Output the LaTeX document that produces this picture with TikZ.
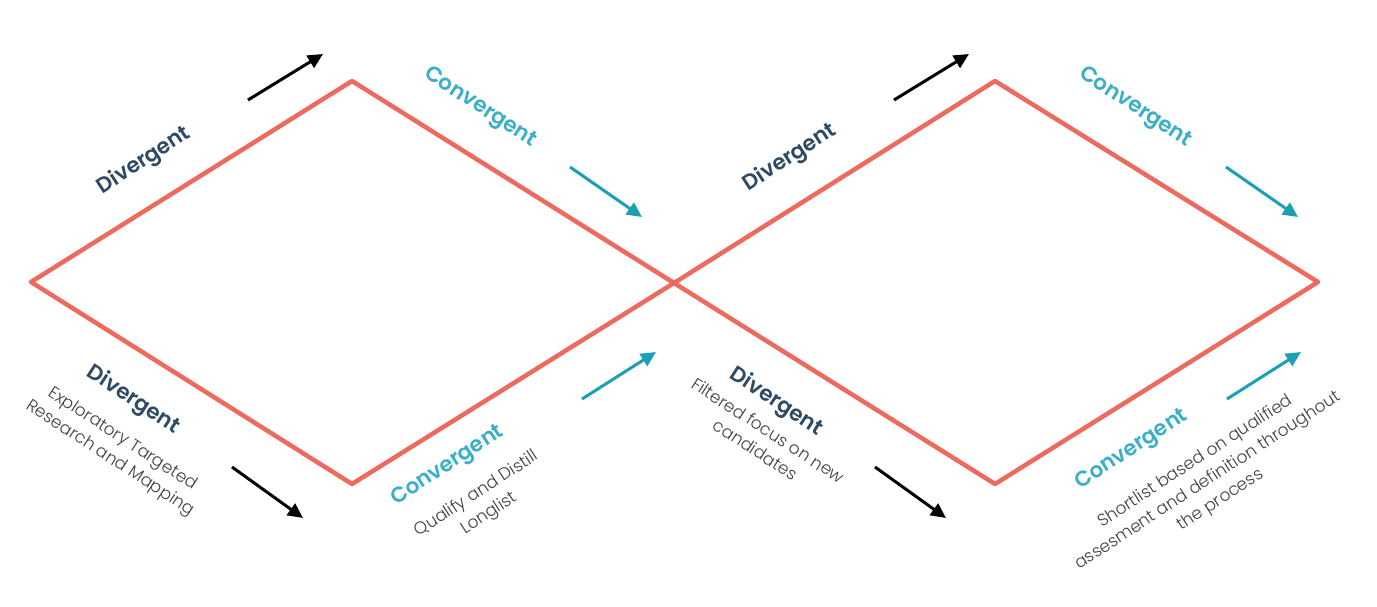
\documentclass[tikz,border=0pt]{standalone}
\usepackage{fontspec}
\setmainfont{Poppins}[UprightFont={* Light},BoldFont={* SemiBold}]
\usetikzlibrary{arrows.meta}
\definecolor{dred}{HTML}{EC6A5E}
\definecolor{divc}{HTML}{2F4A64}
\definecolor{conc}{HTML}{3AAFC6}
\definecolor{tealarr}{HTML}{1A9FB6}
\definecolor{bodyc}{HTML}{404040}
\begin{document}
\begin{tikzpicture}[x=1pt,y=-1pt,
  diam/.style={draw=dred,line width=4.5pt,line join=round},
  darr/.style={line width=3pt,-{Triangle[length=15pt,width=14pt]}},
  head/.style={font=\fontsize{21.5}{24}\selectfont\bfseries,inner sep=0pt},
  divh/.style={head,text=divc},
  conh/.style={head,text=conc},
  body/.style={font=\fontsize{17}{23}\selectfont,text=bodyc,align=center,inner sep=0pt},
  up/.style={rotate=33},
  dn/.style={rotate=-33}]
\useasboundingbox (0,0) rectangle (1377,607);
% diamonds
\coordinate (L1) at (31,282);
\coordinate (T1) at (352,81);
\coordinate (M) at (674,283);
\coordinate (B1) at (352,484);
\coordinate (T2) at (995,81);
\coordinate (R2) at (1318,282);
\coordinate (B2) at (995,484);
\draw[diam] (L1) -- (T1) -- (M) -- (B1) -- cycle;
\draw[diam] (M) -- (T2) -- (R2) -- (B2) -- cycle;
% arrows
\coordinate (a1s) at (248,100); \coordinate (a1e) at (323,54);
\coordinate (a2s) at (570,167); \coordinate (a2e) at (642,217);
\coordinate (a3s) at (232,467); \coordinate (a3e) at (303,518);
\coordinate (a4s) at (582,399); \coordinate (a4e) at (656,352);
\coordinate (b1s) at (894,100); \coordinate (b1e) at (969,54);
\coordinate (b2s) at (1226,167); \coordinate (b2e) at (1298,217);
\coordinate (b3s) at (875,467); \coordinate (b3e) at (946,518);
\coordinate (b4s) at (1227,399); \coordinate (b4e) at (1301,352);
\draw[darr,black] (a1s) -- (a1e);
\draw[darr,tealarr] (a2s) -- (a2e);
\draw[darr,black] (a3s) -- (a3e);
\draw[darr,tealarr] (a4s) -- (a4e);
\draw[darr,black] (b1s) -- (b1e);
\draw[darr,tealarr] (b2s) -- (b2e);
\draw[darr,black] (b3s) -- (b3e);
\draw[darr,tealarr] (b4s) -- (b4e);
% top labels
\node[divh,up] (d1) at (144,161) {Divergent};
\node[conh,dn] (c1) at (480,108) {Convergent};
\node[divh,up] (d2) at (790,158) {Divergent};
\node[conh,dn] (c2) at (1135,108) {Convergent};
% bottom labels
\node[divh,dn] (d3) at (133,400) {Divergent};
\node[body,dn] (t3) at (116,449) {Exploratory Targeted\\Research and Mapping};
\node[conh,up] (c3) at (448,466) {Convergent};
\node[body,up] (t4) at (483,504) {Qualify and Distill\\Longlist};
\node[divh,dn] (d4) at (776,402) {Divergent};
\node[body,dn] (t5) at (762,440) {Filtered focus on new\\candidates};
\node[conh,up] (c4) at (1132,450) {Convergent};
\node[body,up] (t6) at (1208,481) {Shortlist based on qualified\\assesment and definition throughout\\the process};
\end{tikzpicture}
\end{document}
